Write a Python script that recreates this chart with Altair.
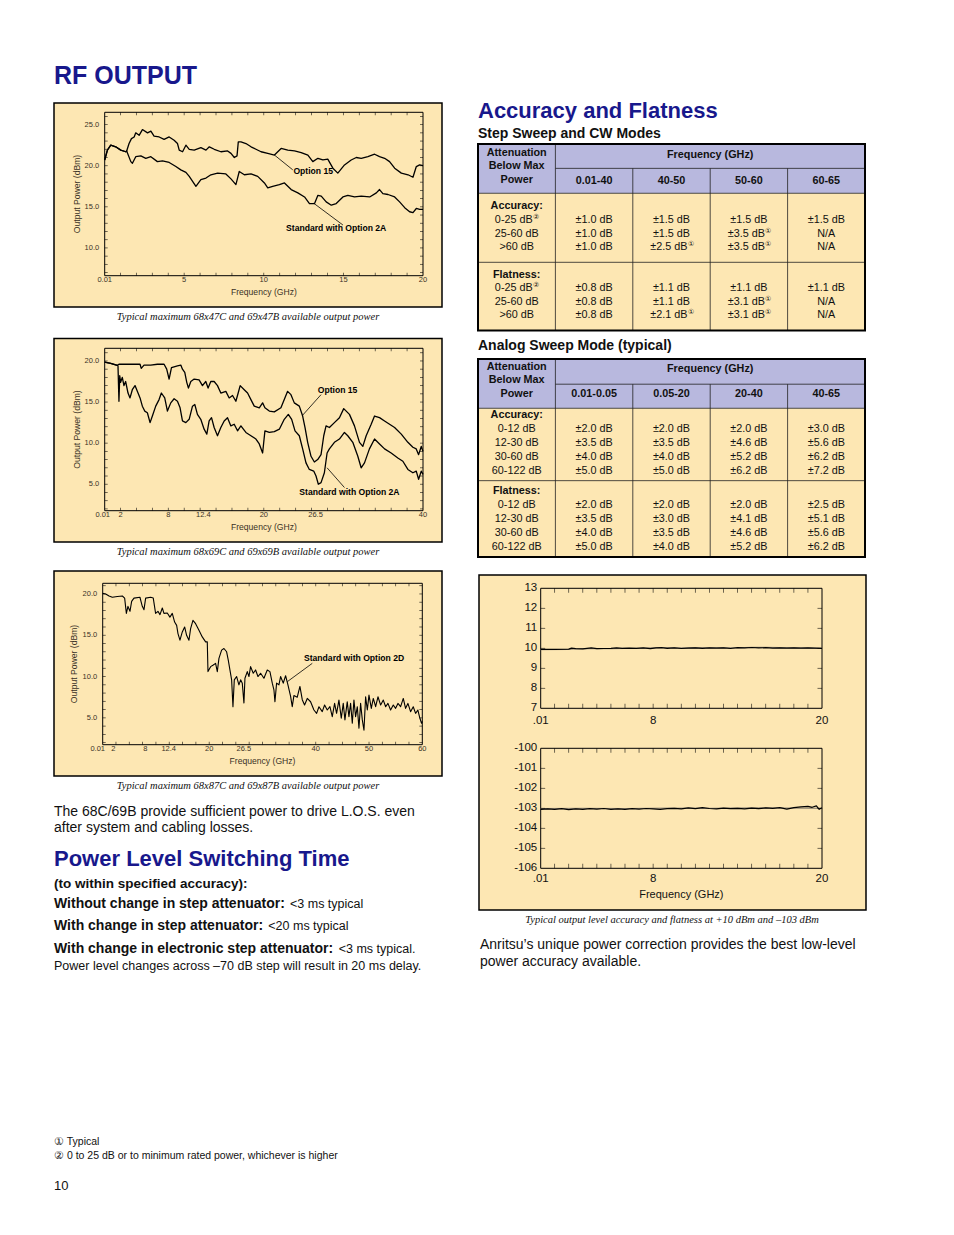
import altair as alt
import pandas as pd

# ============================================================ DATA
# Chart 1 - 68x47C / 69x47B, 0.01-20 GHz (GHz, dBm)
c1_start_f = [0.01, 0.18, 0.39, 0.70, 1.02, 1.33, 1.39]
c1_start_v = [20.7, 21.9, 22.5, 22.3, 21.9, 21.7, 21.8]
c1_opt15_f = [1.54, 1.69, 1.86, 1.96, 2.17, 2.38, 2.70, 2.91, 3.11, 3.43, 3.74, 4.06, 4.37, 4.58, 4.69, 4.90,
              5.11, 5.32, 5.63, 6.05, 6.37, 6.58, 6.89, 7.31, 7.73, 7.94, 8.15, 8.32, 8.40, 8.57, 8.88, 9.20,
              9.51, 9.83, 10.25, 10.67, 11.09, 11.51, 11.93, 12.35, 12.77, 13.08, 13.40, 13.71, 14.02, 14.34,
              14.65, 15.07, 15.49, 15.81, 16.12, 16.54, 16.96, 17.27, 17.59, 17.90, 18.22, 18.64, 19.06, 19.37,
              19.58, 19.79, 20.0]
c1_opt15_v = [22.7, 23.3, 23.5, 24.0, 23.7, 24.4, 24.0, 24.2, 23.6, 23.5, 23.2, 23.5, 23.1, 22.7, 21.9, 21.7,
              22.5, 22.0, 21.9, 22.2, 21.9, 22.3, 22.0, 21.7, 21.8, 21.5, 21.0, 21.2, 22.9, 22.9, 22.7, 22.3,
              22.0, 21.7, 21.5, 21.3, 22.1, 21.9, 21.8, 21.6, 21.3, 20.5, 20.9, 20.7, 20.8, 19.7,
              19.1, 20.1, 20.7, 21.0, 20.9, 21.1, 21.4, 21.1, 20.9, 20.5, 19.7, 19.1, 18.9, 18.6,
              19.9, 20.1, 20.0]
c1_std_f = [1.65, 1.75, 1.96, 2.28, 2.59, 2.91, 3.32, 3.64, 4.06, 4.48, 4.79, 5.11, 5.32, 5.53, 5.74, 6.05,
            6.37, 6.68, 7.10, 7.62, 7.94, 8.25, 8.46, 8.78, 9.20, 9.62, 10.04, 10.25, 10.56, 10.98, 11.30,
            11.72, 12.14, 12.56, 12.87, 13.19, 13.40, 13.61, 13.92, 14.24, 14.55, 14.97, 15.28, 15.70, 16.12,
            16.65, 17.07, 17.27, 17.48, 17.80, 18.22, 18.53, 18.85, 19.16, 19.37, 19.58, 19.79, 20.0]
c1_std_v = [20.5, 20.3, 21.1, 21.2, 20.9, 21.1, 20.5, 20.6, 20.4, 19.9, 19.5, 19.2, 18.7, 18.1, 17.5, 18.3,
            18.5, 18.9, 19.1, 19.0, 18.4, 17.7, 19.3, 18.9, 19.0, 18.7, 17.9, 17.3, 17.5, 17.7, 17.9,
            17.1, 16.7, 16.2, 15.4, 15.4, 16.4, 16.3, 15.6, 15.2, 15.4, 16.2, 16.4, 16.2, 16.3,
            16.2, 16.7, 17.1, 16.6, 16.5, 16.2, 15.6, 14.9, 14.4, 14.3, 14.8, 14.7, 14.7]

# Chart 2 - 68x69C / 69x69B, 0.01-40 GHz
c2_start_f = [0.01, 0.76, 1.6]
c2_start_v = [19.87, 19.7, 19.47]
c2_opt15_f = [1.8, 2.85, 4.45, 4.6, 4.95, 5.79, 6.63, 7.47, 7.8, 8.1, 8.4, 9.15, 9.57, 9.78, 10.07, 10.32,
              10.53, 10.83, 11.25, 11.87, 12.29, 12.71, 13.0, 13.34, 13.76, 14.18, 14.6, 15.23, 15.65, 16.07,
              16.49, 16.78, 17.03, 17.54, 17.96, 18.38, 18.8, 19.43, 19.85, 20.14, 20.69, 21.32, 22.15, 22.57,
              22.99, 23.41, 23.83, 24.46, 24.88, 25.18, 25.51, 25.93, 26.35, 26.77, 27.19, 27.53, 27.82, 28.24,
              28.87, 29.5, 30.04, 30.76, 31.39, 32.02, 32.44, 32.86, 33.49, 33.91, 34.54, 35.17, 35.8, 36.43,
              37.27, 38.1, 38.73, 39.15, 39.45, 39.78, 40.0]
c2_opt15_v = [19.6, 19.6, 19.6, 19.1, 19.5, 19.5, 19.6, 19.6, 19.0, 17.8, 19.2, 19.4, 19.5, 19.0, 18.6, 17.4,
              16.7, 17.5, 17.8, 17.7, 17.0, 17.5, 16.7, 17.5, 17.5, 17.0, 16.1, 16.3, 15.5, 15.8,
              15.1, 16.1, 17.0, 16.5, 16.1, 15.3, 14.5, 14.3, 14.9, 14.3, 13.9, 13.8, 14.3, 15.3,
              16.3, 15.9, 14.9, 14.5, 13.3, 11.9, 10.1, 8.4, 7.7, 8.0, 8.6, 10.9, 12.1, 11.9,
              12.5, 13.1, 14.2, 13.5, 12.1, 10.1, 9.6, 10.9, 12.3, 13.3, 13.1, 12.7, 12.3, 11.9,
              11.1, 10.1, 9.5, 9.3, 8.6, 9.6, 9.0]
c2_std_f = [1.68, 1.8, 1.9, 2.01, 2.22, 2.43, 2.64, 2.94, 3.19, 3.48, 3.82, 4.11, 4.45, 4.74, 5.04, 5.37,
            5.71, 6.0, 6.42, 6.84, 7.13, 7.55, 7.89, 8.31, 8.73, 9.15, 9.48, 9.78, 10.2, 10.62, 11.04, 11.33,
            11.66, 12.08, 12.5, 12.84, 13.13, 13.43, 13.76, 14.18, 14.6, 15.02, 15.44, 15.86, 16.28, 16.7,
            17.12, 17.75, 18.38, 19.01, 19.43, 19.85, 20.14, 20.69, 21.32, 21.95, 22.57, 23.08, 23.5, 23.92,
            24.46, 24.88, 25.3, 25.72, 26.27, 26.56, 26.85, 27.19, 27.61, 27.95, 28.24, 28.87, 29.5, 30.13,
            30.55, 31.18, 31.81, 32.23, 32.65, 33.27, 33.91, 34.54, 35.17, 36.0, 36.84, 37.47, 38.1, 38.73,
            39.15, 39.45, 39.78, 40.0]
c2_std_v = [19.4, 15.1, 18.2, 17.4, 18.0, 17.0, 17.5, 16.1, 15.5, 16.5, 17.0, 16.3, 15.5, 14.5, 13.9, 13.7,
            12.5, 13.3, 14.5, 15.3, 16.1, 15.5, 13.9, 14.9, 15.4, 15.1, 14.3, 12.7, 12.5, 12.9, 14.5, 14.7,
            13.5, 12.9, 11.7, 11.1, 12.7, 13.1, 11.9, 10.9, 11.9, 12.7, 13.1, 12.1, 12.3, 11.5,
            12.1, 11.3, 10.9, 10.5, 9.9, 8.8, 11.5, 11.3, 11.4, 11.7, 12.9, 13.5, 12.9, 11.5,
            10.9, 9.3, 7.6, 6.8, 6.6, 6.0, 5.0, 5.2, 6.4, 8.8, 9.3, 10.1, 10.5, 11.3,
            10.9, 10.1, 8.4, 7.0, 7.6, 9.3, 10.5, 9.9, 9.3, 8.8, 8.2, 7.8, 6.8, 6.4,
            6.6, 5.6, 6.6, 6.2]

# Chart 3 - 68x87C / 69x87B, 0.01-60 GHz
c3_f = [0.01, 0.57, 1.2, 1.82, 2.76, 3.7, 4.13, 4.45, 4.75, 5.13, 5.44, 5.88, 7.0, 7.44, 7.76, 8.07, 9.0, 9.5,
        9.94, 10.38, 10.76, 11.2, 11.51, 12.13, 12.63, 13.07, 13.51, 13.89, 14.14, 14.51, 14.95, 15.39, 15.76,
        16.2, 16.51, 16.95, 17.45, 18.08, 18.7, 19.33, 19.64, 19.77, 20.27, 20.77, 21.2, 21.52, 21.83, 22.33,
        22.77, 23.27, 23.58, 23.89, 24.21, 24.46, 24.71, 25.15, 25.58, 25.9, 26.21, 26.52, 26.71, 27.15, 27.46,
        27.77, 28.27, 28.71, 29.15, 29.65, 30.27, 30.9, 31.4, 31.84, 32.15, 32.34, 32.65, 33.09, 33.4, 33.9,
        34.34, 34.78, 35.28, 35.59, 35.9, 36.53, 37.03, 37.47, 37.9, 38.41, 39.03, 39.66, 40.16, 40.6, 41.22,
        41.66, 42.16, 42.66, 43.1, 43.54, 43.91, 44.35, 44.79, 45.16, 45.48, 45.91, 46.23, 46.54, 46.86, 47.17,
        47.48, 47.8, 48.11, 48.42, 48.74, 49.05, 49.36, 49.68, 49.99, 50.43, 50.8, 51.24, 51.68, 52.18, 52.68,
        53.12, 53.55, 54.05, 54.55, 54.99, 55.43, 55.93, 56.43, 56.86, 57.3, 57.8, 58.3, 58.74, 59.17, 59.55,
        59.86, 60.0]
c3_v = [20.07, 20.0, 19.75, 19.6, 19.7, 19.75, 19.5, 17.65, 18.5, 17.9, 19.1, 19.5, 19.6, 18.5, 18.1, 19.5,
        19.6, 19.5, 17.65, 17.9, 17.5, 18.3, 17.65, 17.7, 17.2, 17.65, 16.6, 16.2, 15.2, 14.4, 15.4, 16.0, 15.0,
        14.4, 15.8, 16.8, 16.4, 15.6, 14.8, 14.2, 14.2, 10.6, 11.2, 11.4, 11.6, 10.6, 12.2, 13.2, 13.4, 13.0,
        12.0, 10.8, 9.6, 6.35, 9.6, 10.0, 9.0, 9.6, 9.2, 6.8, 9.8, 10.6, 10.0, 11.2, 10.4, 10.8, 10.0, 10.4,
        9.8, 10.8, 10.6, 9.2, 8.4, 6.95, 9.2, 9.0, 10.0, 9.2, 10.1, 9.0, 7.6, 6.35, 7.7, 7.5, 8.8, 7.2, 6.55,
        7.35, 6.95, 5.95, 5.55, 6.35, 5.75, 6.55, 5.95, 6.35, 5.15, 6.75, 5.55, 7.15, 4.95, 6.75, 4.75, 6.95,
        5.15, 6.75, 4.35, 7.15, 5.15, 6.35, 3.75, 6.75, 4.75, 3.5, 7.55, 5.95, 7.75, 6.15, 7.35, 6.35, 7.55,
        6.55, 7.15, 6.35, 6.75, 5.95, 6.55, 6.15, 6.75, 6.35, 7.35, 6.15, 6.75, 5.75, 6.35, 5.55, 5.95, 4.95,
        4.35, 4.55]

# Accuracy / flatness traces (+10 dBm and -103 dBm)
p1_black_f = [0.01, 1.0, 2.0, 2.2, 2.5, 3.0, 3.3, 3.6, 4.0, 4.5, 5.0, 5.4, 5.8, 6.3, 6.8, 7.3, 7.8, 8.2, 8.6,
              9.0, 9.5, 10.0, 10.5, 11.0, 11.5, 12.0, 12.5, 13.0, 13.5, 14.0, 14.5, 15.0, 15.5, 16.0, 16.5,
              17.0, 17.5, 18.0, 18.5, 19.0, 19.5, 20.0]
p1_black_v = [9.95, 9.95, 9.96, 10.01, 9.98, 9.97, 10.0, 10.02, 9.98, 9.99, 10.0, 10.02, 10.0, 10.01, 10.0,
              10.02, 9.98, 10.02, 10.03, 10.0, 10.02, 9.99, 10.01, 10.02, 10.0, 10.02, 10.01, 10.02, 9.99,
              10.03, 10.02, 10.04, 10.02, 10.03, 10.01, 10.02, 10.01, 10.02, 10.01, 10.02, 10.01, 10.0]
p1_gray_f = [0.01, 2.0, 2.5, 3.5, 5.0, 6.0, 7.0, 8.0, 9.0, 10.0, 11.0, 12.0, 13.0, 14.0, 15.0, 16.0, 17.0,
             18.0, 19.0, 20.0]
p1_gray_v = [9.93, 9.94, 9.97, 9.98, 9.98, 10.0, 10.0, 10.02, 10.04, 10.02, 10.03, 10.02, 10.04, 10.02,
             10.05, 10.05, 10.03, 10.02, 10.01, 10.0]
p2_black_f = [0.01, 0.5, 1.0, 1.5, 2.0, 2.5, 3.0, 3.5, 4.0, 4.5, 5.0, 5.5, 6.0, 6.5, 7.0, 7.5, 8.0, 8.5, 9.0,
              9.5, 10.0, 10.5, 11.0, 11.5, 12.0, 12.5, 13.0, 13.5, 14.0, 14.5, 15.0, 15.5, 16.0, 16.5, 17.0,
              17.5, 18.0, 18.5, 19.0, 19.3, 19.6, 19.8, 20.0]
p2_black_v = [-103.05, -103.03, -103.05, -103.02, -103.07, -103.03, -103.05, -103.02, -103.04, -103.01,
              -103.05, -103.03, -103.05, -103.02, -103.04, -103.01, -103.03, -103.05, -103.02, -103.0,
              -103.03, -102.98, -103.02, -102.97, -103.01, -103.03, -102.99, -103.02, -103.0, -103.03,
              -102.99, -103.02, -102.98, -103.0, -102.97, -103.04, -102.97, -102.93, -102.9, -102.95,
              -102.88, -103.05, -102.97]
p2_gray_f = [0.01, 3.0, 6.0, 9.0, 12.0, 15.0, 18.0, 20.0]
p2_gray_v = [-103.02, -103.0, -103.01, -102.99, -103.0, -102.98, -102.99, -103.0]

# Axis tick values and their labels
c1_xlab = [0.01, 5, 10, 15, 20]
c1_xlab_txt = ["0.01", "5", "10", "15", "20"]
c1_ylab = [10, 15, 20, 25]
c1_ylab_txt = ["10.0", "15.0", "20.0", "25.0"]
c2_xlab = [0.01, 2, 8, 12.4, 20, 26.5, 40]
c2_xlab_txt = ["0.01", "2", "8", "12.4", "20", "26.5", "40"]
c2_ylab = [5, 10, 15, 20]
c2_ylab_txt = ["5.0", "10.0", "15.0", "20.0"]
c3_xlab = [0.01, 2, 8, 12.4, 20, 26.5, 40, 50, 60]
c3_xlab_txt = ["0.01", "2", "8", "12.4", "20", "26.5", "40", "50", "60"]
c3_ylab = [5, 10, 15, 20]
c3_ylab_txt = ["5.0", "10.0", "15.0", "20.0"]
p_xlab = [0.01, 8, 20]
p_xlab_txt = [".01", "8", "20"]
p1_ylab = [7, 8, 9, 10, 11, 12, 13]
p1_ylab_txt = ["7", "8", "9", "10", "11", "12", "13"]
p2_ylab = [-106, -105, -104, -103, -102, -101, -100]
p2_ylab_txt = ["-106", "-105", "-104", "-103", "-102", "-101", "-100"]
X_TITLE = "Frequency (GHz)"
Y_TITLE = "Output Power (dBm)"

# Series annotations (label, freq, dBm) and leader lines (f1, v1, f2, v2)
c1_ann = [("Option 15", 11.86, 19.3), ("Standard with Option 2A", 11.40, 12.47)]
c1_lead = [(10.67, 21.3, 11.82, 19.5), (13.14, 15.43, 14.97, 12.79)]
c2_ann = [("Option 15", 26.77, 16.5), ("Standard with Option 2A", 24.46, 4.0)]
c2_lead = [(24.88, 13.4, 27.19, 15.9), (27.95, 7.0, 30.13, 4.6)]
c3_ann = [("Standard with Option 2D", 37.79, 12.2)]
c3_lead = [(34.66, 9.38, 39.35, 11.6)]

# Tables
t_head = ["Attenuation", "Below Max", "Power"]
t_freq = "Frequency (GHz)"
t1_cols = ["0.01-40", "40-50", "50-60", "60-65"]
t1_rows = ["0-25 dB", "25-60 dB", ">60 dB"]
t1_rows_sup = ["②", "", ""]
t1_acc = [["±1.0 dB", "±1.0 dB", "±1.0 dB"], ["±1.5 dB", "±1.5 dB", "±2.5 dB"],
          ["±1.5 dB", "±3.5 dB", "±3.5 dB"], ["±1.5 dB", "N/A", "N/A"]]
t1_acc_sup = [["", "", ""], ["", "", "①"], ["", "①", "①"], ["", "", ""]]
t1_flat = [["±0.8 dB", "±0.8 dB", "±0.8 dB"], ["±1.1 dB", "±1.1 dB", "±2.1 dB"],
           ["±1.1 dB", "±3.1 dB", "±3.1 dB"], ["±1.1 dB", "N/A", "N/A"]]
t1_flat_sup = [["", "", ""], ["", "", "①"], ["", "①", "①"], ["", "", ""]]
t2_cols = ["0.01-0.05", "0.05-20", "20-40", "40-65"]
t2_rows = ["0-12 dB", "12-30 dB", "30-60 dB", "60-122 dB"]
t2_acc = [["±2.0 dB", "±3.5 dB", "±4.0 dB", "±5.0 dB"], ["±2.0 dB", "±3.5 dB", "±4.0 dB", "±5.0 dB"],
          ["±2.0 dB", "±4.6 dB", "±5.2 dB", "±6.2 dB"], ["±3.0 dB", "±5.6 dB", "±6.2 dB", "±7.2 dB"]]
t2_flat = [["±2.0 dB", "±3.5 dB", "±4.0 dB", "±5.0 dB"], ["±2.0 dB", "±3.0 dB", "±3.5 dB", "±4.0 dB"],
           ["±2.0 dB", "±4.1 dB", "±4.6 dB", "±5.2 dB"], ["±2.5 dB", "±5.1 dB", "±5.6 dB", "±6.2 dB"]]

# Page text
TXT_RF = "RF OUTPUT"
TXT_ACC = "Accuracy and Flatness"
TXT_SUB1 = "Step Sweep and CW Modes"
TXT_SUB2 = "Analog Sweep Mode (typical)"
CAPTIONS = ["Typical maximum 68x47C and 69x47B available output power",
            "Typical maximum 68x69C and 69x69B available output power",
            "Typical maximum 68x87C and 69x87B available output power",
            "Typical output level accuracy and flatness at +10 dBm and –103 dBm"]
PARA_LEFT = ["The 68C/69B provide sufficient power to drive L.O.S. even", "after system and cabling losses."]
TXT_PLS = "Power Level Switching Time"
PLS_INTRO = "(to within specified accuracy):"
PLS_ITEMS = [("Without change in step attenuator:", "<3 ms typical"),
             ("With change in step attenuator:", "<20 ms typical"),
             ("With change in electronic step attenuator:", "<3 ms typical.")]
PLS_NOTE = "Power level changes across –70 dB step will result in 20 ms delay."
PARA_RIGHT = ["Anritsu’s unique power correction provides the best low-level", "power accuracy available."]
FOOTNOTES = ["① Typical", "② 0 to 25 dB or to minimum rated power, whichever is higher"]
PAGE_NO = "10"

# ============================================================ STYLE / LAYOUT
OFF = 8
W, H = 938, 1219


def P(v):
    return v - OFF


FONT = "Liberation Sans"
SERIF = "Liberation Serif"
NAVY = "#18188c"
INK = "#111111"
AXIS_INK = "#3a3226"
YELLOW = "#fde7b3"
LAVENDER = "#b8b8de"
ONE = pd.DataFrame({"k": [0]})


def page_text(s, x, y, size, weight="normal", color=INK, font=FONT, style="normal", align="left"):
    return alt.Chart(ONE).mark_text(text=s, font=font, fontSize=size, fontWeight=weight, fontStyle=style,
                                    color=color, align=align, baseline="alphabetic").encode(
        x=alt.value(P(x)), y=alt.value(P(y)))


def box(x0, y0, x1, y1, sw=1.5):
    return alt.Chart(ONE).mark_rect(fill=YELLOW, stroke="black", strokeWidth=sw).encode(
        x=alt.value(P(x0)), x2=alt.value(P(x1)), y=alt.value(P(y0)), y2=alt.value(P(y1)))


def subplot(series, plot, xdom, ydom, xlab, xlab_txt, ylab, ylab_txt, xminor, yminor, before=(),
            lab_size=7.5, title_size=8.6, xtitle="", ytitle="", lab_color=AXIS_INK,
            xlab_dy=4.3, ylab_dx=-5.5, xtitle_dy=16.3, ytitle_dy=-27.5, tick_len=3, ann=(), lead=(), lw=1.3,
            first_dx=0):
    x0, y0, x1, y1 = plot
    sx = alt.Scale(domain=list(xdom), range=[P(x0), P(x1)], zero=False, nice=False)
    sy = alt.Scale(domain=list(ydom), range=[P(y1), P(y0)], zero=False, nice=False)
    XQ = lambda f: alt.X(f, scale=sx, axis=None)
    YQ = lambda f: alt.Y(f, scale=sy, axis=None)
    XD = lambda d: alt.XDatum(d, type="quantitative", scale=sx, axis=None)
    YD = lambda d: alt.YDatum(d, type="quantitative", scale=sy, axis=None)
    layers = list(before)
    layers.append(alt.Chart(ONE).mark_rect(fillOpacity=0, stroke="black", strokeWidth=1).encode(
        x=XD(xdom[0]), x2=alt.X2Datum(xdom[1]), y=YD(ydom[0]), y2=alt.Y2Datum(ydom[1])))
    for f, v, color in series:
        df = pd.DataFrame([{"f": a, "v": b, "i": n} for n, (a, b) in enumerate(zip(f, v))])
        layers.append(alt.Chart(df).mark_line(color=color, strokeWidth=lw, strokeJoin="round").encode(
            x=XQ("f:Q"), y=YQ("v:Q"), order=alt.Order("i:Q")))
    # inward ticks on all four sides
    L = tick_len
    dx = pd.DataFrame({"t": xminor})
    dy = pd.DataFrame({"t": yminor})
    for at, off in ((ydom[0], -L / 2), (ydom[1], L / 2)):
        layers.append(alt.Chart(dx).mark_tick(orient="vertical", size=L, thickness=0.8, color="black",
                                              yOffset=off).encode(x=XQ("t:Q"), y=YD(at)))
    for at, off in ((xdom[0], L / 2), (xdom[1], -L / 2)):
        layers.append(alt.Chart(dy).mark_tick(orient="horizontal", size=L, thickness=0.8, color="black",
                                              xOffset=off).encode(y=YQ("t:Q"), x=XD(at)))
    # tick labels, placed through the scales
    xl = pd.DataFrame({"v": xlab, "t": xlab_txt})
    lab_style = dict(align="center", baseline="middle", dy=xlab_dy, font=FONT, fontSize=lab_size,
                     color=lab_color)
    layers.append(alt.Chart(xl.iloc[:1]).mark_text(dx=first_dx, **lab_style).encode(
        x=XQ("v:Q"), y=YD(ydom[0]), text="t:N"))
    layers.append(alt.Chart(xl.iloc[1:]).mark_text(**lab_style).encode(
        x=XQ("v:Q"), y=YD(ydom[0]), text="t:N"))
    yl = pd.DataFrame({"v": ylab, "t": ylab_txt})
    layers.append(alt.Chart(yl).mark_text(align="right", baseline="middle", dx=ylab_dx, font=FONT,
                                          fontSize=lab_size, color=lab_color).encode(
        y=YQ("v:Q"), x=XD(xdom[0]), text="t:N"))
    if xtitle:
        layers.append(alt.Chart(ONE).mark_text(text=xtitle, align="center", baseline="middle", dy=xtitle_dy,
                                               font=FONT, fontSize=title_size, color=lab_color).encode(
            x=XD((xdom[0] + xdom[1]) / 2), y=YD(ydom[0])))
    if ytitle:
        layers.append(alt.Chart(ONE).mark_text(text=ytitle, align="center", baseline="middle", angle=270,
                                               dy=ytitle_dy, font=FONT, fontSize=title_size,
                                               color=lab_color).encode(
            x=XD(xdom[0]), y=YD((ydom[0] + ydom[1]) / 2)))
    if ann:
        adf = pd.DataFrame([{"t": t, "x": a, "y": b} for t, a, b in ann])
        layers.append(alt.Chart(adf).mark_text(align="left", baseline="middle", font=FONT, fontSize=8.6,
                                               fontWeight="bold", color="black").encode(
            x=XQ("x:Q"), y=YQ("y:Q"), text="t:N"))
    if lead:
        ldf = pd.DataFrame([{"x": a, "y": b, "x2": c, "y2": d} for a, b, c, d in lead])
        layers.append(alt.Chart(ldf).mark_rule(color="black", strokeWidth=0.8).encode(
            x=XQ("x:Q"), y=YQ("y:Q"), x2="x2:Q", y2="y2:Q"))
    return alt.layer(*layers)


def table(top, bottom, cols, geom, sections, fs=10.8):
    units = (bottom - top) / 14.0
    sx = alt.Scale(domain=[0, 5], range=[P(478), P(865)], zero=False, nice=False)
    sy = alt.Scale(domain=[0, units], range=[P(top), P(bottom)], zero=False, nice=False)
    hs, hb, sec2 = geom["split"], geom["head"], geom["sec2"]
    X = lambda f: alt.X(f, scale=sx, axis=None)
    Y = lambda f: alt.Y(f, scale=sy, axis=None)
    fills = pd.DataFrame({"x": [0, 0], "x2": [5, 5], "y": [0, hb], "y2": [hb, units], "c": [LAVENDER, YELLOW]})
    layers = [alt.Chart(fills).mark_rect().encode(x=X("x:Q"), x2="x2:Q", y=Y("y:Q"), y2="y2:Q",
                                                   fill=alt.Fill("c:N", scale=None))]
    rl = pd.DataFrame({"x": [1, 0, 0, 1, 2, 3, 4], "x2": [5, 5, 5, 1, 2, 3, 4],
                       "y": [hs, hb, sec2, 0, hs, hs, hs], "y2": [hs, hb, sec2, units, units, units, units]})
    layers.append(alt.Chart(rl).mark_rule(color="#222222", strokeWidth=0.8).encode(
        x=X("x:Q"), x2="x2:Q", y=Y("y:Q"), y2="y2:Q"))
    layers.append(alt.Chart(ONE).mark_rect(fillOpacity=0, stroke="black", strokeWidth=2).encode(
        x=alt.XDatum(0, type="quantitative", scale=sx, axis=None), x2=alt.X2Datum(5),
        y=alt.YDatum(0, type="quantitative", scale=sy, axis=None), y2=alt.Y2Datum(units)))
    recs = []
    for k, s in enumerate(t_head):
        recs.append(dict(x=0.5, y=geom["attn"] + k * 0.98, t=s, b=True, sup=""))
    recs.append(dict(x=3, y=geom["freq"], t=t_freq, b=True, sup=""))
    for c, name in enumerate(cols):
        recs.append(dict(x=c + 1.5, y=geom["cols"], t=name, b=True, sup=""))
    for (title, rows, rsup, vals, vsup), (ty, fy, sp) in zip(sections, geom["sections"]):
        recs.append(dict(x=0.5, y=ty, t=title, b=True, sup=""))
        for r, lab in enumerate(rows):
            recs.append(dict(x=0.5, y=fy + r * sp, t=lab, b=False, sup=rsup[r] if rsup else ""))
        for c, colv in enumerate(vals):
            for r, v in enumerate(colv):
                recs.append(dict(x=c + 1.5, y=fy + r * sp, t=v, b=False, sup=vsup[c][r] if vsup else ""))
    df = pd.DataFrame(recs)
    bold = df[df.b]
    plain = df[(~df.b) & (df.sup == "")]
    supd = df[(~df.b) & (df.sup != "")]
    base = dict(font=FONT, fontSize=fs, color=INK, baseline="middle")
    layers.append(alt.Chart(bold).mark_text(align="center", fontWeight="bold", **base).encode(
        x=X("x:Q"), y=Y("y:Q"), text="t:N"))
    layers.append(alt.Chart(plain).mark_text(align="center", **base).encode(x=X("x:Q"), y=Y("y:Q"), text="t:N"))
    if len(supd):
        layers.append(alt.Chart(supd).mark_text(align="right", dx=16, **base).encode(
            x=X("x:Q"), y=Y("y:Q"), text="t:N"))
        layers.append(alt.Chart(supd).mark_text(align="left", dx=16.5, dy=-3, font=FONT, fontSize=7, color=INK,
                                                baseline="middle").encode(x=X("x:Q"), y=Y("y:Q"), text="sup:N"))
    return alt.layer(*layers)


# ============================================================ BUILD
c1 = subplot([(c1_start_f + c1_opt15_f, c1_start_v + c1_opt15_v, "black"),
              (c1_start_f + c1_std_f, c1_start_v + c1_std_v, "black")],
             (104.7, 112.3, 423, 275.7), (0.01, 20), (6.62, 26.5), c1_xlab, c1_xlab_txt, c1_ylab, c1_ylab_txt,
             list(range(1, 20)), list(range(7, 27)), before=[box(54, 103, 442, 307)],
             xtitle=X_TITLE, ytitle=Y_TITLE, ann=c1_ann, lead=c1_lead)
c2 = subplot([(c2_start_f + c2_opt15_f, c2_start_v + c2_opt15_v, "black"),
              (c2_start_f + c2_std_f, c2_start_v + c2_std_v, "black")],
             (104.7, 348.3, 423, 510.7), (0.01, 40), (1.78, 21.54), c2_xlab, c2_xlab_txt, c2_ylab, c2_ylab_txt,
             list(range(2, 40, 2)), list(range(2, 22)), before=[box(54, 338.5, 442, 542)],
             xtitle=X_TITLE, ytitle=Y_TITLE, ann=c2_ann, lead=c2_lead, first_dx=-2)
c3 = subplot([(c3_f, c3_v, "black")],
             (102.7, 583.3, 422.3, 744.7), (0.01, 60), (1.75, 21.29), c3_xlab, c3_xlab_txt, c3_ylab, c3_ylab_txt,
             [2.5 * k for k in range(1, 24)], list(range(2, 22)), before=[box(54, 571, 442, 776)],
             xtitle=X_TITLE, ytitle=Y_TITLE, ytitle_dy=-28.5, ann=c3_ann, lead=c3_lead, lw=1.1, first_dx=-5)
p1 = subplot([(p1_gray_f, p1_gray_v, "#9a8f7a"), (p1_black_f, p1_black_v, "black")],
             (540.7, 588.3, 822, 708.3), (0.01, 20), (7, 13), p_xlab, p_xlab_txt, p1_ylab, p1_ylab_txt,
             list(range(1, 20)), list(range(8, 13)), before=[box(479, 575, 866, 910)],
             lab_size=11.5, lab_color=INK, xlab_dy=12.2, ylab_dx=-3.5, tick_len=4.5, lw=1.2)
p2 = subplot([(p2_gray_f, p2_gray_v, "#9a8f7a"), (p2_black_f, p2_black_v, "black")],
             (540.7, 748.3, 822, 868.3), (0.01, 20), (-106, -100), p_xlab, p_xlab_txt, p2_ylab, p2_ylab_txt,
             list(range(1, 20)), list(range(-105, -100)),
             lab_size=11.5, title_size=11, lab_color=INK, xlab_dy=11, ylab_dx=-3.5,
             xtitle=X_TITLE, xtitle_dy=26.4, tick_len=4.5, lw=1.2)

tab1 = table(144, 330.5, t1_cols,
             dict(split=1.74, head=3.52, sec2=8.45, attn=0.62, freq=0.8, cols=2.62,
                  sections=[(4.42, 5.45, 0.96), (9.36, 10.31, 0.96)]),
             [("Accuracy:", t1_rows, t1_rows_sup, t1_acc, t1_acc_sup),
              ("Flatness:", t1_rows, t1_rows_sup, t1_flat, t1_flat_sup)])
tab2 = table(359, 557, t2_cols,
             dict(split=1.8, head=3.52, sec2=8.69, attn=0.55, freq=0.68, cols=2.52,
                  sections=[(4.0, 5.0, 0.99), (9.43, 10.43, 0.99)]),
             [("Accuracy:", t2_rows, None, t2_acc, None),
              ("Flatness:", t2_rows, None, t2_flat, None)])

texts = [
    page_text(TXT_RF, 54, 84, 25, "bold", NAVY),
    page_text(TXT_ACC, 478, 118, 22, "bold", NAVY),
    page_text(TXT_SUB1, 478, 138, 14, "bold"),
    page_text(TXT_SUB2, 478, 350, 14, "bold"),
    page_text(CAPTIONS[0], 248, 319.5, 10.5, font=SERIF, style="italic", align="center"),
    page_text(CAPTIONS[1], 248, 554.5, 10.5, font=SERIF, style="italic", align="center"),
    page_text(CAPTIONS[2], 248, 788.5, 10.5, font=SERIF, style="italic", align="center"),
    page_text(CAPTIONS[3], 672, 922.5, 10.5, font=SERIF, style="italic", align="center"),
    page_text(PARA_LEFT[0], 54, 815.5, 14),
    page_text(PARA_LEFT[1], 54, 832, 14),
    page_text(TXT_PLS, 54, 866, 22, "bold", NAVY),
    page_text(PLS_INTRO, 54, 888, 13.5, "bold"),
    page_text(PLS_NOTE, 54, 969.5, 12.5),
    page_text(PARA_RIGHT[0], 480, 949, 14),
    page_text(PARA_RIGHT[1], 480, 966, 14),
    page_text(FOOTNOTES[0], 54, 1145, 10.5),
    page_text(FOOTNOTES[1], 54, 1159, 10.5),
    page_text(PAGE_NO, 54, 1190, 13),
]
for (b, r), y, xr in zip(PLS_ITEMS, (908.3, 930, 952.7), (290, 268.3, 338.7)):
    texts.append(page_text(b, 54, y, 14, "bold"))
    texts.append(page_text(r, xr, y, 12.5))

chart = alt.layer(c1, c2, c3, p1, p2, tab1, tab2, *texts).resolve_scale(
    x="independent", y="independent"
).properties(
    width=W, height=H, padding=0, autosize=alt.AutoSizeParams(type="none"), background="white"
).configure_view(stroke="transparent")

chart.save("out.html", embed_options={"renderer": "svg", "actions": False})
